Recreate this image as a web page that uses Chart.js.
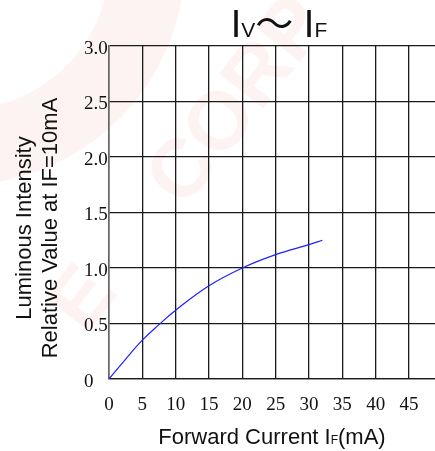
<!DOCTYPE html>
<html>
<head>
<meta charset="utf-8">
<script src="https://cdn.jsdelivr.net/npm/chart.js@4.4.1/dist/chart.umd.min.js"></script>
<style>
  html, body { margin: 0; padding: 0; background: #fff; }
  #wrap { width: 435px; height: 451px; position: relative; }
</style>
</head>
<body>
<div id="wrap"><canvas id="chart"></canvas></div>
<script>
// forward current (mA) vs relative luminous intensity
const currentMA = [0, 2.5, 5, 7.5, 10, 15, 20, 25, 30, 32];
const relIntensity = [0, 0.18, 0.35, 0.49, 0.62, 0.84, 1.0, 1.12, 1.21, 1.25];

const xTicks = [0, 5, 10, 15, 20, 25, 30, 35, 40, 45];
const yTicks = [0, 0.5, 1.0, 1.5, 2.0, 2.5, 3.0];

const titleParts = [
  { t: "I", f: "38px 'Liberation Sans', Arial" },
  { t: "V", f: "21px 'Liberation Sans', Arial" },
  { t: "～", f: "38px 'Noto Sans CJK JP'" },
  { t: " ", f: "38px 'Liberation Sans', Arial" },
  { t: "I", f: "38px 'Liberation Sans', Arial" },
  { t: "F", f: "21px 'Liberation Sans', Arial" }
];
const xTitleParts = [
  { t: "Forward Current I", f: "22px 'Liberation Sans', Arial" },
  { t: "F", f: "12px 'Liberation Sans', Arial" },
  { t: "(mA)", f: "22px 'Liberation Sans', Arial" }
];
const yTitleLines = ["Luminous Intensity", "Relative Value at IF=10mA"];

// draws a row of text pieces with mixed sizes, centred on cx
function drawParts(ctx, parts, cx, baseY) {
  let total = 0;
  parts.forEach(p => { ctx.font = p.f; total += ctx.measureText(p.t).width; });
  let x = cx - total / 2;
  parts.forEach(p => {
    ctx.font = p.f;
    ctx.fillText(p.t, x, baseY);
    x += ctx.measureText(p.t).width;
  });
}

const watermark = {
  id: "watermark",
  beforeDraw(chart) {
    const ctx = chart.ctx;
    ctx.save();
    ctx.fillStyle = "rgba(245,80,80,0.07)";
    ctx.beginPath();
    ctx.arc(-40, -40, 225, 0, Math.PI / 2);
    ctx.lineTo(-40, -40);
    ctx.fill();
    ctx.fillStyle = "#fff";
    ctx.beginPath();
    ctx.arc(-40, -40, 150, 0, Math.PI / 2);
    ctx.lineTo(-40, -40);
    ctx.fill();
    ctx.translate(185, 172);
    ctx.rotate(-52 * Math.PI / 180);
    ctx.fillStyle = "rgba(245,80,80,0.07)";
    ctx.font = "bold 82px 'Liberation Sans', Arial";
    ctx.textAlign = "left";
    ctx.textBaseline = "middle";
    ctx.fillText("E", -190, 0);
    ctx.fillText("CORP", -30, 0);
    ctx.restore();
  }
};

const labels = {
  id: "labels",
  afterDraw(chart) {
    const ctx = chart.ctx;
    ctx.save();
    ctx.fillStyle = "#111";
    ctx.textAlign = "left";
    ctx.textBaseline = "alphabetic";
    drawParts(ctx, titleParts, 279, 37);
    drawParts(ctx, xTitleParts, 272, 444);
    ctx.font = "22px 'Liberation Sans', Arial";
    ctx.textAlign = "center";
    ctx.translate(0, 228);
    ctx.rotate(-Math.PI / 2);
    ctx.fillText(yTitleLines[0], 0, 31);
    ctx.fillText(yTitleLines[1], 0, 57);
    ctx.restore();
  }
};

const gridColor = "#1a1a1a";

new Chart(document.getElementById("chart"), {
  type: "line",
  data: {
    datasets: [{
      data: currentMA.map((x, i) => ({ x: x, y: relIntensity[i] })),
      borderColor: "#1f1fff",
      borderWidth: 1.2,
      pointRadius: 0,
      tension: 0.4,
      fill: false
    }]
  },
  plugins: [watermark, labels],
  options: {
    responsive: true,
    maintainAspectRatio: false,
    animation: false,
    layout: { padding: { top: 46, left: 84, right: 0, bottom: 0 } },
    plugins: { legend: { display: false }, tooltip: { enabled: false } },
    scales: {
      x: {
        type: "linear",
        min: 0,
        max: 48.9,
        afterBuildTicks: s => { s.ticks = xTicks.map(v => ({ value: v })); },
        afterFit: s => { s.height = 72; },
        grid: { color: gridColor, lineWidth: 1.3, drawTicks: false },
        border: { color: gridColor, width: 1.3 },
        ticks: {
          padding: 15,
          color: "#111",
          font: { family: "'Liberation Serif', 'Times New Roman', serif", size: 19 }
        }
      },
      y: {
        min: 0,
        max: 3,
        afterBuildTicks: s => { s.ticks = yTicks.map(v => ({ value: v })); },
        afterFit: s => { s.width = 25; },
        grid: { color: gridColor, lineWidth: 1.3, drawTicks: false },
        border: { color: "#666", width: 1.5 },
        ticks: {
          crossAlign: "far",
          labelOffset: 3,
          color: "#111",
          font: { family: "'Liberation Serif', 'Times New Roman', serif", size: 19 },
          callback: v => (v === 0 ? "0" : v.toFixed(1))
        }
      }
    }
  }
});
</script>
</body>
</html>
